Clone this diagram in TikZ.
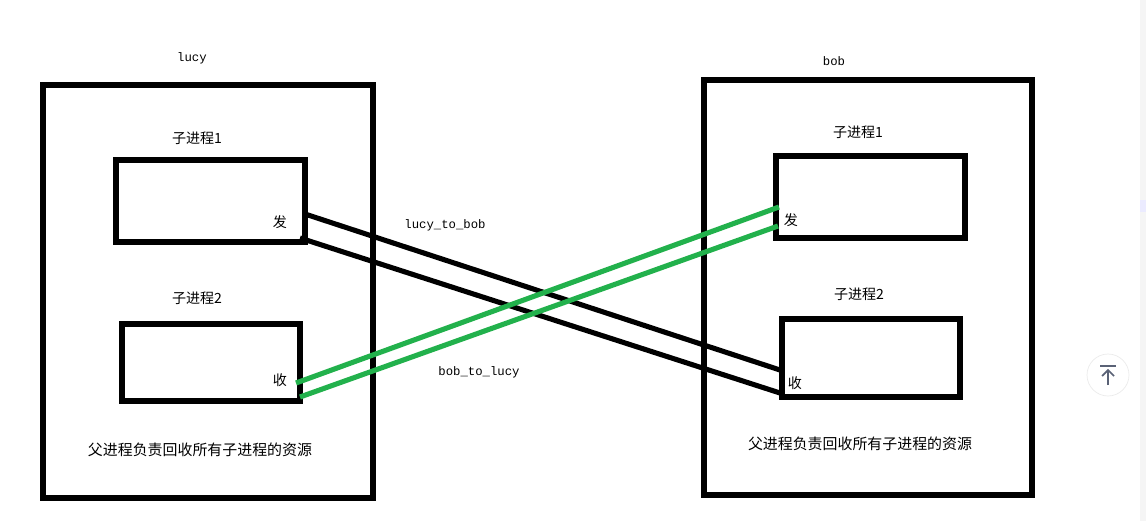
\documentclass[tikz,border=0pt]{standalone}
\usepackage{fontspec}
\setmainfont{Noto Sans CJK SC}
\setmonofont{Liberation Mono}
\usetikzlibrary{positioning}

\definecolor{pipegreen}{RGB}{34,177,76}
\definecolor{btngrey}{RGB}{90,98,118}

\begin{document}
\begin{tikzpicture}[
  x=0.02cm, y=-0.02cm,
  host/.style={draw, line width=2.9pt, inner sep=0pt},
  proc/.style={draw, line width=2.9pt, inner sep=0pt},
  lbl/.style={font=\fontsize{8}{10}\selectfont, inner sep=1pt},
  note/.style={font=\fontsize{8.5}{10}\selectfont, inner sep=1pt},
  hosttag/.style={font=\ttfamily\fontsize{7}{9}\selectfont, inner sep=1pt},
  blackpipe/.style={line width=2.9pt, black},
  greenpipe/.style={line width=2.9pt, pipegreen}
]
\useasboundingbox (0,0) rectangle (1146,521);

% lucy side
\node[hosttag] (lucy) at (192,58) {lucy};
\node[host, minimum width=6.6cm, minimum height=8.26cm] (lucyhost) at (208,291.5) {};
\node[proc, minimum width=3.78cm, minimum height=1.64cm] (lucyp1) at (210.5,201) {};
\node[proc, minimum width=3.56cm, minimum height=1.54cm] (lucyp2) at (211,362.5) {};
\node[lbl] (lucyp1name) at (197,138) {子进程1};
\node[lbl] (lucyp2name) at (197,298) {子进程2};
\node[lbl] (lucysend) at (280,222) {发};
\node[lbl] (lucyrecv) at (280,380) {收};
\node[note] (lucynote) at (200,450) {父进程负责回收所有子进程的资源};

% bob side
\node[hosttag] (bob) at (834,61) {bob};
\node[host, minimum width=6.56cm, minimum height=8.3cm] (bobhost) at (868,287.5) {};
\node[proc, minimum width=3.78cm, minimum height=1.64cm] (bobp1) at (870.5,197) {};
\node[proc, minimum width=3.56cm, minimum height=1.56cm] (bobp2) at (871,358) {};
\node[lbl] (bobp1name) at (858,132) {子进程1};
\node[lbl] (bobp2name) at (859,294) {子进程2};
\node[lbl] (bobsend) at (791,220) {发};
\node[lbl] (bobrecv) at (795,383) {收};
\node[note] (bobnote) at (860,444) {父进程负责回收所有子进程的资源};

% pipe ends
\coordinate (l2ba) at (305,214);
\coordinate (l2bb) at (300,238);
\coordinate (l2bc) at (783,371);
\coordinate (l2bd) at (780,393);
\coordinate (b2la) at (779,207);
\coordinate (b2lb) at (778,226);
\coordinate (b2lc) at (296,383);
\coordinate (b2ld) at (300,397);

% pipes
\draw[blackpipe] (l2ba) -- (l2bc);
\draw[blackpipe] (l2bb) -- (l2bd);
\draw[greenpipe] (b2la) -- (b2lc);
\draw[greenpipe] (b2lb) -- (b2ld);
\node[hosttag] (l2bname) at (445,225) {lucy\_to\_bob};
\node[hosttag] (b2lname) at (479,372) {bob\_to\_lucy};

% page edge and top button
\fill[black!4] (1140,0) rectangle (1146,521);
\fill[blue!8] (1140,200) rectangle (1146,212);
\draw[black!8, fill=white] (1108,375) circle (21);
\draw[btngrey, line width=1pt] (1100,366) -- (1116,366);
\draw[btngrey, line width=1pt] (1108,385) -- (1108,370);
\draw[btngrey, line width=1pt] (1102,376) -- (1108,370) -- (1114,376);
\end{tikzpicture}
\end{document}
